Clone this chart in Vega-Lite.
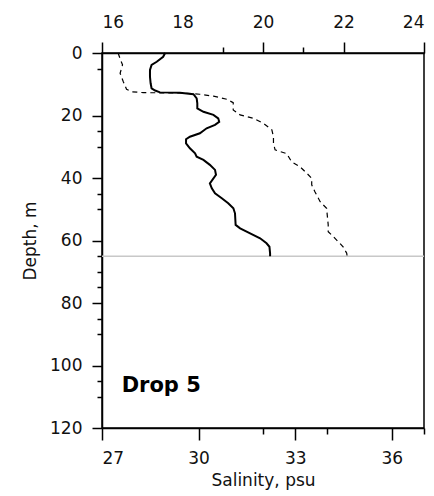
{
  "$schema": "https://vega.github.io/schema/vega-lite/v6.json",
  "width": 322,
  "height": 375,
  "autosize": {"type": "none"},
  "padding": {"left": 102, "top": 53, "right": 10, "bottom": 68},
  "background": "white",
  "config": {
    "view": {"stroke": "black", "strokeWidth": 1.5},
    "axis": {
      "labelFont": "DejaVu Sans",
      "labelFontSize": 17,
      "labelColor": "#111",
      "labelOverlap": false,
      "titleFont": "DejaVu Sans",
      "titleFontSize": 17,
      "titleFontWeight": "normal",
      "titleColor": "#111",
      "domainColor": "black",
      "domainWidth": 1.5,
      "tickColor": "black",
      "tickWidth": 1.5,
      "grid": false
    },
    "axisQuantitative": {"labelOverlap": false},
    "axisY": {"labelOverlap": false},
    "axisX": {"labelOverlap": false}
  },
  "datasets": {
    "sal": [
      {"depth": 0, "salinity": 28.96}, {"depth": 1.2, "salinity": 28.9}, {"depth": 2.8, "salinity": 28.7},
      {"depth": 3.8, "salinity": 28.54}, {"depth": 5.4, "salinity": 28.49}, {"depth": 7.6, "salinity": 28.49},
      {"depth": 9.7, "salinity": 28.51}, {"depth": 11.3, "salinity": 28.54}, {"depth": 12.0, "salinity": 28.65},
      {"depth": 12.6, "salinity": 28.8}, {"depth": 12.7, "salinity": 29.42}, {"depth": 13.2, "salinity": 29.84},
      {"depth": 14.5, "salinity": 29.94}, {"depth": 16.1, "salinity": 29.96}, {"depth": 17.7, "salinity": 29.96},
      {"depth": 18.8, "salinity": 30.15}, {"depth": 19.8, "salinity": 30.46}, {"depth": 20.9, "salinity": 30.61},
      {"depth": 22.0, "salinity": 30.64}, {"depth": 23.0, "salinity": 30.51}, {"depth": 24.1, "salinity": 30.25},
      {"depth": 25.7, "salinity": 30.04}, {"depth": 26.8, "salinity": 29.73}, {"depth": 27.6, "salinity": 29.61},
      {"depth": 28.9, "salinity": 29.61}, {"depth": 30.5, "salinity": 29.73}, {"depth": 32.1, "salinity": 29.89},
      {"depth": 33.2, "salinity": 29.94}, {"depth": 34.2, "salinity": 30.15}, {"depth": 35.8, "salinity": 30.35},
      {"depth": 37.4, "salinity": 30.51}, {"depth": 39.0, "salinity": 30.54}, {"depth": 41.7, "salinity": 30.35},
      {"depth": 43.3, "salinity": 30.41}, {"depth": 44.9, "salinity": 30.51}, {"depth": 46.5, "salinity": 30.72},
      {"depth": 48.1, "salinity": 30.92}, {"depth": 49.7, "salinity": 31.08}, {"depth": 51.3, "salinity": 31.13},
      {"depth": 55.0, "salinity": 31.15}, {"depth": 56.1, "salinity": 31.29}, {"depth": 57.7, "salinity": 31.6},
      {"depth": 59.3, "salinity": 31.91}, {"depth": 60.9, "salinity": 32.11}, {"depth": 62.0, "salinity": 32.2},
      {"depth": 64.1, "salinity": 32.22}, {"depth": 65.0, "salinity": 32.22}
    ],
    "temp": [
      {"depth": 0, "temperature": 16.4}, {"depth": 2.2, "temperature": 16.46}, {"depth": 3.8, "temperature": 16.51},
      {"depth": 6.5, "temperature": 16.45}, {"depth": 9.2, "temperature": 16.53}, {"depth": 11.6, "temperature": 16.61},
      {"depth": 12.4, "temperature": 16.74}, {"depth": 12.7, "temperature": 17.03}, {"depth": 12.75, "temperature": 17.61},
      {"depth": 12.8, "temperature": 18.02}, {"depth": 13.2, "temperature": 18.43}, {"depth": 13.8, "temperature": 18.77},
      {"depth": 14.8, "temperature": 19.1}, {"depth": 15.9, "temperature": 19.26}, {"depth": 18.2, "temperature": 19.26},
      {"depth": 19.8, "temperature": 19.43}, {"depth": 20.9, "temperature": 19.76}, {"depth": 22.5, "temperature": 20.01},
      {"depth": 24.6, "temperature": 20.22}, {"depth": 26.8, "temperature": 20.26}, {"depth": 28.9, "temperature": 20.26},
      {"depth": 31.0, "temperature": 20.3}, {"depth": 32.2, "temperature": 20.59}, {"depth": 34.8, "temperature": 20.71},
      {"depth": 36.4, "temperature": 20.92}, {"depth": 38.5, "temperature": 21.09}, {"depth": 40.1, "temperature": 21.21},
      {"depth": 42.2, "temperature": 21.21}, {"depth": 44.4, "temperature": 21.29}, {"depth": 47.6, "temperature": 21.42},
      {"depth": 49.7, "temperature": 21.58}, {"depth": 55.0, "temperature": 21.62}, {"depth": 57.2, "temperature": 21.62},
      {"depth": 58.8, "temperature": 21.75}, {"depth": 60.4, "temperature": 21.87}, {"depth": 62.0, "temperature": 21.99},
      {"depth": 64.1, "temperature": 22.08}, {"depth": 65.0, "temperature": 22.09}
    ],
    "ref": [{"depth": 65}],
    "lab": [{"salinity": 27.61, "depth": 108.6, "text": "Drop 5"}]
  },
  "resolve": {"scale": {"x": "independent"}, "axis": {"x": "independent"}},
  "layer": [
    {
      "data": {"name": "ref"},
      "mark": {"type": "rule", "color": "#c8c8c8", "strokeWidth": 1.5},
      "encoding": {
        "y": {
          "field": "depth", "type": "quantitative",
          "scale": {"domain": [0, 120], "reverse": true, "nice": false, "zero": false},
          "axis": {
            "title": "Depth, m",
            "values": [0, 5, 20, 25, 30, 40, 45, 50, 60, 65, 70, 75, 80, 85, 90, 100, 105, 110, 120],
            "labelExpr": "datum.value % 20 == 0 ? datum.label : ''",
            "labelOverlap": false,
            "tickSize": {"condition": {"test": "datum.value % 20 != 0", "value": 5}, "value": 10},
            "labelPadding": 10,
            "titlePadding": 10
          }
        }
      }
    },
    {
      "data": {"name": "sal"},
      "mark": {"type": "line", "color": "black", "strokeWidth": 2},
      "encoding": {
        "x": {
          "field": "salinity", "type": "quantitative",
          "scale": {"domain": [27, 37], "nice": false, "zero": false},
          "axis": {
            "orient": "bottom", "title": "Salinity, psu",
            "values": [27, 30, 32, 33, 34, 36, 37],
            "labelExpr": "datum.value % 3 == 0 ? datum.label : ''",
            "labelOverlap": false,
            "tickSize": {"condition": {"test": "datum.value == 32 || datum.value == 34 || datum.value == 37", "value": 6}, "value": 12},
            "labelPadding": 10,
            "titlePadding": 6
          }
        },
        "y": {
          "field": "depth", "type": "quantitative",
          "scale": {"domain": [0, 120], "reverse": true, "nice": false, "zero": false},
          "axis": {
            "title": "Depth, m",
            "values": [0, 5, 20, 25, 30, 40, 45, 50, 60, 65, 70, 75, 80, 85, 90, 100, 105, 110, 120],
            "labelExpr": "datum.value % 20 == 0 ? datum.label : ''",
            "labelOverlap": false,
            "tickSize": {"condition": {"test": "datum.value % 20 != 0", "value": 5}, "value": 10},
            "labelPadding": 10,
            "titlePadding": 10
          }
        },
        "order": {"field": "depth", "type": "quantitative"}
      }
    },
    {
      "data": {"name": "temp"},
      "mark": {"type": "line", "color": "black", "strokeWidth": 1.2, "strokeDash": [5, 4]},
      "encoding": {
        "x": {
          "field": "temperature", "type": "quantitative",
          "scale": {"domain": [16, 24], "nice": false, "zero": false},
          "axis": {
            "orient": "top", "title": null,
            "values": [16, 18, 19, 20, 21, 22, 24],
            "labelExpr": "datum.value % 2 == 0 ? datum.label : ''",
            "labelOverlap": false,
            "tickSize": {"condition": {"test": "datum.value == 19 || datum.value == 21", "value": 6}, "value": 11},
            "tickOpacity": {"condition": {"test": "datum.value == 18", "value": 0}, "value": 1},
            "labelPadding": 11
          }
        },
        "y": {
          "field": "depth", "type": "quantitative",
          "scale": {"domain": [0, 120], "reverse": true, "nice": false, "zero": false},
          "axis": {
            "title": "Depth, m",
            "values": [0, 5, 20, 25, 30, 40, 45, 50, 60, 65, 70, 75, 80, 85, 90, 100, 105, 110, 120],
            "labelExpr": "datum.value % 20 == 0 ? datum.label : ''",
            "labelOverlap": false,
            "tickSize": {"condition": {"test": "datum.value % 20 != 0", "value": 5}, "value": 10},
            "labelPadding": 10,
            "titlePadding": 10
          }
        },
        "order": {"field": "depth", "type": "quantitative"}
      }
    },
    {
      "data": {"name": "lab"},
      "mark": {"type": "text", "font": "DejaVu Sans", "fontSize": 21, "fontWeight": "bold", "align": "left", "baseline": "alphabetic", "color": "black"},
      "encoding": {
        "x": {"field": "salinity", "type": "quantitative", "scale": {"domain": [27, 37], "nice": false, "zero": false}, "axis": null},
        "y": {
          "field": "depth", "type": "quantitative",
          "scale": {"domain": [0, 120], "reverse": true, "nice": false, "zero": false},
          "axis": {
            "title": "Depth, m",
            "values": [0, 5, 20, 25, 30, 40, 45, 50, 60, 65, 70, 75, 80, 85, 90, 100, 105, 110, 120],
            "labelExpr": "datum.value % 20 == 0 ? datum.label : ''",
            "labelOverlap": false,
            "tickSize": {"condition": {"test": "datum.value % 20 != 0", "value": 5}, "value": 10},
            "labelPadding": 10,
            "titlePadding": 10
          }
        },
        "text": {"field": "text"}
      }
    }
  ]
}
